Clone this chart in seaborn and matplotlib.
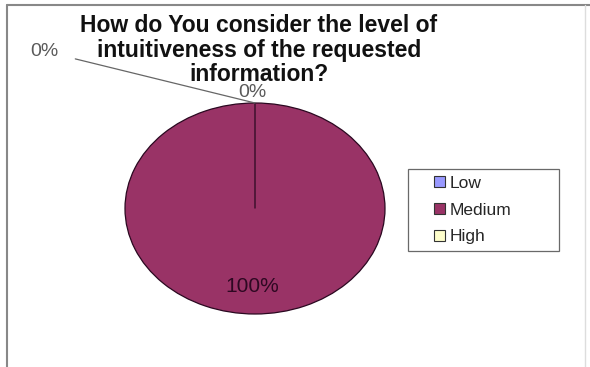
import matplotlib
matplotlib.use("Agg")
import matplotlib.pyplot as plt
from matplotlib.patches import Patch, Rectangle
from matplotlib.lines import Line2D
from matplotlib.legend_handler import HandlerPatch
import seaborn as sns

categories = ["Low", "Medium", "High"]
values = [0, 100, 0]
colors = ["#9999FF", "#993366", "#FFFFCC"]
title = "How do You consider the level of\nintuitiveness of the requested\ninformation?"

sns.set_style("white")
plt.rcParams["font.family"] = ["Liberation Sans", "DejaVu Sans"]

fig = plt.figure(figsize=(5.9, 3.67), dpi=100)
ax = fig.add_axes([125/590, 1-314/367, 260/590, 211/367])

wedges, _ = ax.pie(values, colors=colors, startangle=90, counterclock=False,
                   wedgeprops=dict(edgecolor="#2a0820", linewidth=0.9))
for w in wedges:
    w.set_clip_on(False)
ax.set_aspect("auto")
ax.set_xlim(-1, 1)
ax.set_ylim(-1, 1)
ax.axis("off")

# percentage labels
total = sum(values)
pcts = [f"{round(v / total * 100)}%" for v in values]
ax.annotate(pcts[0], xy=(0, 1.0), xytext=(-1.62, 1.49), fontsize=14, color="#5a5a5a",
            ha="center", va="center", annotation_clip=False,
            arrowprops=dict(arrowstyle="-", color="#666666", lw=0.9, shrinkA=10, shrinkB=0))
ax.text(-0.02, 1.10, pcts[2], fontsize=14, color="#5a5a5a", ha="center", va="center")
ax.text(-0.02, -0.74, pcts[1], fontsize=15, color="#2e0822", ha="center", va="center")

fig.text(259/590, 1-50/367, title, ha="center", va="center", fontsize=16.5,
         fontweight="bold", color="#111111", linespacing=1.06)


class SmallSquare(HandlerPatch):
    def create_artists(self, legend, orig_handle, xdescent, ydescent, width, height,
                       fontsize, trans):
        s = 8
        p = Rectangle((width - s - xdescent, (height - s) / 2 - ydescent), s, s,
                      facecolor=orig_handle.get_facecolor(), edgecolor="#333333",
                      linewidth=0.8, transform=trans)
        return [p]


handles = [Patch(facecolor=c) for c in colors]
leg = fig.legend(handles, categories, loc="upper left",
                 bbox_to_anchor=(408/590, 1-249/367, 151/590, 80/367), mode="expand",
                 frameon=True, fontsize=12.5, handlelength=1.72, handleheight=0.6,
                 handletextpad=0.29, labelspacing=0.67, borderpad=0.4, borderaxespad=0,
                 fancybox=False, handler_map={Patch: SmallSquare()})
leg.get_frame().set_edgecolor("#444444")
leg.get_frame().set_linewidth(0.9)

# outer chart border (top & left)
fig.add_artist(Line2D([7/590, 7/590], [0, 1-5/367], color="#888888", lw=1.5))
fig.add_artist(Line2D([7/590, 1], [1-5/367, 1-5/367], color="#888888", lw=1.5))
fig.add_artist(Line2D([585/590, 585/590], [0, 1-5/367], color="#dddddd", lw=1.0))

fig.savefig("out.png", dpi=100)
